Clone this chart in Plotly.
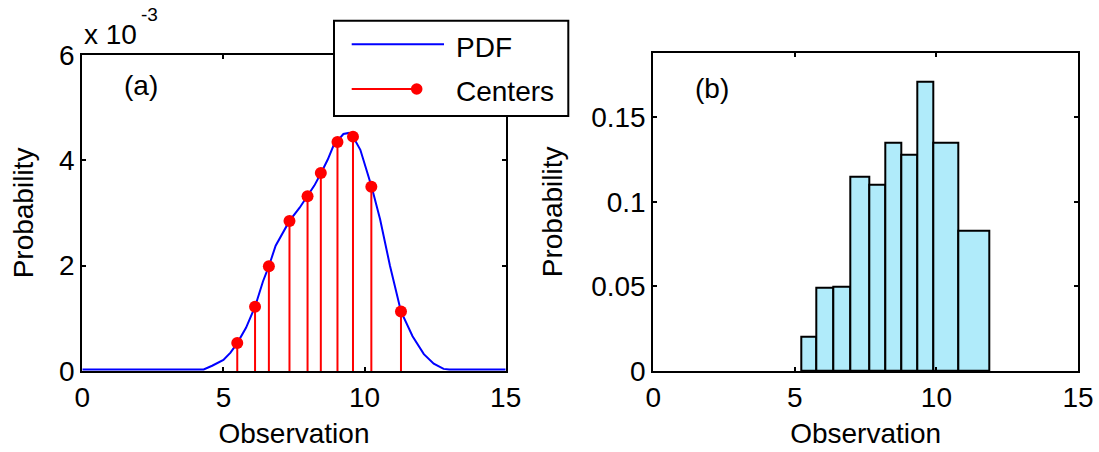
import numpy as np
import plotly.graph_objects as go

W, H = 1099, 452
FONT = "Liberation Sans, Arial, sans-serif"

# Estimated probability density of the observations (values in units of 1e-3)
pdf_x = [0.0, 4.3, 4.6, 5.0, 5.25, 5.49, 5.8, 6.12, 6.4, 6.61, 6.85, 7.1, 7.34,
         7.7, 7.98, 8.22, 8.46, 8.7, 8.9, 9.04, 9.25, 9.45, 9.59, 9.85, 10.05,
         10.25, 10.55, 10.9, 11.29, 11.7, 12.1, 12.45, 12.8, 13.0, 15.0]
pdf_e3 = [0.03, 0.03, 0.1, 0.21, 0.35, 0.53, 0.82, 1.22, 1.7, 1.99, 2.38, 2.62, 2.85,
          3.1, 3.32, 3.52, 3.76, 4.02, 4.28, 4.37, 4.5, 4.52, 4.45, 4.2, 3.85,
          3.5, 2.88, 2.0, 1.13, 0.66, 0.32, 0.14, 0.04, 0.03, 0.03]

# Cluster centres and the density at each centre (units of 1e-3)
center_x = [5.49, 6.12, 6.61, 7.34, 7.98, 8.45, 9.04, 9.59, 10.24, 11.29]
center_e3 = [0.53, 1.22, 1.99, 2.85, 3.32, 3.76, 4.35, 4.45, 3.50, 1.13]

# Histogram: bin edges around each centre and the probability of each bin
bin_edges = [5.21, 5.76, 6.34, 6.97, 7.63, 8.19, 8.76, 9.32, 9.88, 10.77, 11.88]
bin_prob = [0.020, 0.049, 0.050, 0.115, 0.110, 0.135, 0.128, 0.171, 0.135, 0.083]

x_ticks = [0, 5, 10, 15]
pdf_ticks_e3 = [0, 2, 4, 6]
prob_ticks = [0, 0.05, 0.1, 0.15]
prob_tick_text = ["0", "0.05", "0.1", "0.15"]

pdf_y = np.array(pdf_e3) * 1e-3
center_y = np.array(center_e3) * 1e-3
edges = np.array(bin_edges)
bin_mid = (edges[:-1] + edges[1:]) / 2
bin_w = edges[1:] - edges[:-1]

# stems from the baseline up to each centre value
stem_x, stem_y = [], []
for cx, cy in zip(center_x, center_y):
    stem_x += [cx, cx, None]
    stem_y += [0, cy, None]


def px(x):
    return x / W


def py(y):
    return 1 - y / H


fig = go.Figure()
fig.add_trace(go.Scatter(x=pdf_x, y=pdf_y, mode="lines",
                         line=dict(color="#0000ff", width=2),
                         xaxis="x", yaxis="y", showlegend=False))
fig.add_trace(go.Scatter(x=stem_x, y=stem_y, mode="lines",
                         line=dict(color="#ff0000", width=2),
                         xaxis="x", yaxis="y", showlegend=False))
fig.add_trace(go.Scatter(x=center_x, y=center_y, mode="markers",
                         marker=dict(color="#ff0000", size=12),
                         xaxis="x", yaxis="y", showlegend=False))
fig.add_trace(go.Bar(x=bin_mid, y=bin_prob, width=bin_w,
                     marker=dict(color="rgb(176,235,250)",
                                 line=dict(color="black", width=2)),
                     xaxis="x2", yaxis="y2", showlegend=False))

axis_common = dict(
    showline=True, linecolor="black", linewidth=2, mirror="ticks",
    ticks="inside", ticklen=4, tickwidth=1.5, tickcolor="black",
    showgrid=False, zeroline=False, automargin=False,
    tickfont=dict(family=FONT, size=28, color="black"),
)
title_font = dict(family=FONT, size=28, color="black")

fig.update_layout(
    width=W, height=H,
    margin=dict(l=0, r=0, t=0, b=0),
    paper_bgcolor="white", plot_bgcolor="white",
    font=dict(family=FONT, size=28, color="black"),
    xaxis=dict(axis_common, domain=[px(82.3), px(505.7)], range=[0, 15],
               tickvals=x_ticks, anchor="y",
               title=dict(text="Observation", font=title_font, standoff=12)),
    yaxis=dict(axis_common, domain=[py(371), py(55)], range=[0, 6e-3],
               tickvals=[t * 1e-3 for t in pdf_ticks_e3],
               ticktext=[str(t) for t in pdf_ticks_e3], anchor="x",
               title=dict(text="Probability", font=title_font, standoff=17)),
    xaxis2=dict(axis_common, domain=[px(653.3), px(1078)], range=[0, 15],
                tickvals=x_ticks, anchor="y2",
                title=dict(text="Observation", font=title_font, standoff=12)),
    yaxis2=dict(axis_common, domain=[py(371), py(52.7)],
                range=[0, max(bin_prob) * 1.1],
                tickvals=prob_ticks, ticktext=prob_tick_text, anchor="x2",
                title=dict(text="Probability", font=title_font, standoff=20)),
    bargap=0,
)

# panel labels and the exponent of the left y axis
fig.add_annotation(x=2.07, y=5.43e-3, xref="x", yref="y", text="(a)",
                   showarrow=False, font=title_font)
fig.add_annotation(x=2.09, y=0.167, xref="x2", yref="y2", text="(b)",
                   showarrow=False, font=title_font)
fig.add_annotation(x=px(82), y=py(34), xref="paper", yref="paper", text="x 10",
                   showarrow=False, xanchor="left", yanchor="middle", font=title_font)
fig.add_annotation(x=px(139), y=py(15), xref="paper", yref="paper", text="-3",
                   showarrow=False, xanchor="left", yanchor="middle",
                   font=dict(family=FONT, size=19, color="black"))

# legend box of the left panel
fig.add_shape(type="rect", xref="paper", yref="paper", layer="above",
              x0=px(334), x1=px(568.3), y0=py(116), y1=py(20.7),
              fillcolor="white", line=dict(color="black", width=2))
fig.add_shape(type="line", xref="paper", yref="paper", layer="above",
              x0=px(351.7), x1=px(444), y0=py(44.3), y1=py(44.3),
              line=dict(color="#0000ff", width=2))
fig.add_shape(type="line", xref="paper", yref="paper", layer="above",
              x0=px(351.7), x1=px(416.7), y0=py(89), y1=py(89),
              line=dict(color="#ff0000", width=2))
fig.add_shape(type="circle", xref="paper", yref="paper", layer="above",
              x0=px(416.7 - 5.8), x1=px(416.7 + 5.8), y0=py(89 + 5.8), y1=py(89 - 5.8),
              fillcolor="#ff0000", line=dict(color="#ff0000", width=0))
fig.add_annotation(x=px(454), y=py(48), xref="paper", yref="paper", text="PDF",
                   showarrow=False, xanchor="left", yanchor="middle", font=title_font)
fig.add_annotation(x=px(454), y=py(91), xref="paper", yref="paper", text="Centers",
                   showarrow=False, xanchor="left", yanchor="middle", font=title_font)

fig.write_html("out.html")
